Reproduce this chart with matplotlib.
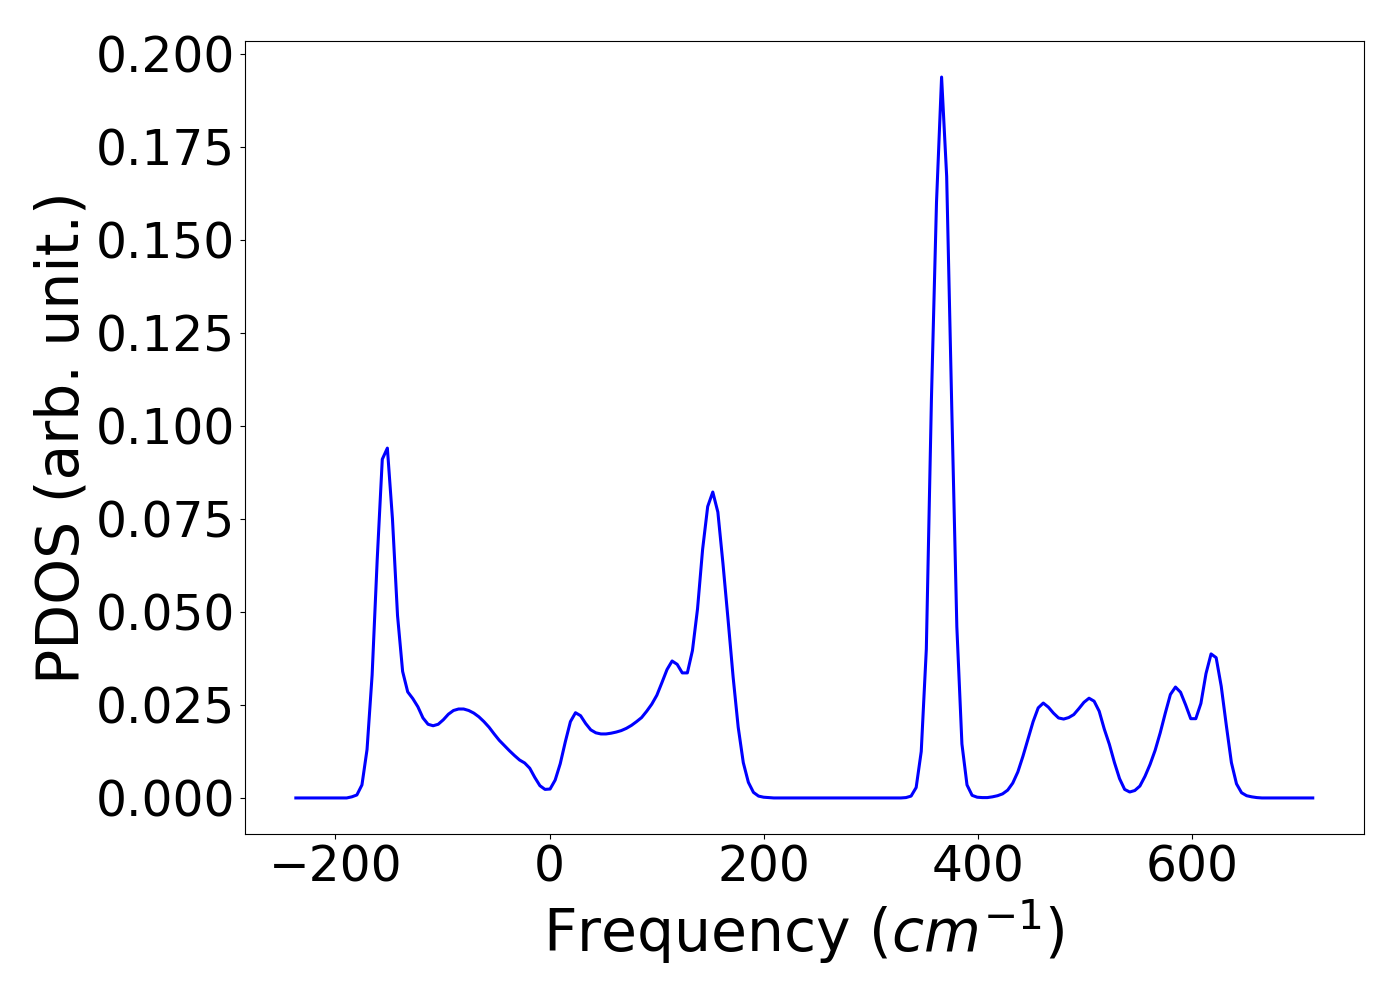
import numpy as np
import matplotlib
matplotlib.use("Agg")
import matplotlib.pyplot as plt

# Frequency grid (cm^-1): 201 evenly spaced samples
freq_min = -237.0
freq_max = 713.0
n_points = 201

# PDOS values, one per frequency sample
pdos_low = [0.0] * 11 + [
    0.0003, 0.0008, 0.0035, 0.013, 0.033, 0.064, 0.091, 0.094, 0.075, 0.049, 0.034, 0.0285,
]
pdos_mid1 = [
    0.0267, 0.0245, 0.0215, 0.0198, 0.0194, 0.0198, 0.0210, 0.0225, 0.0235, 0.0239,
    0.0239, 0.0235, 0.0228, 0.0218, 0.0205, 0.0190, 0.0172, 0.0155, 0.0141, 0.0127,
    0.0114, 0.0102, 0.0094, 0.0080, 0.0055, 0.0033, 0.0023, 0.0024,
]
pdos_mid2 = [
    0.0048, 0.0092, 0.0151, 0.0205, 0.0229, 0.0221, 0.0200, 0.0183, 0.0175, 0.0172,
    0.0172, 0.0174, 0.0177, 0.0181, 0.0187, 0.0195, 0.0205, 0.0216, 0.0233, 0.0252,
    0.0276, 0.0310, 0.0345, 0.0368, 0.0359, 0.0336, 0.0336, 0.0396, 0.0508, 0.0668,
    0.0783, 0.0822, 0.0768, 0.0630, 0.0480, 0.0325, 0.0190, 0.0095, 0.0042, 0.0015,
    0.0005, 0.0002, 0.0001,
]
pdos_gap = [0.0] * 26
pdos_peak = [
    0.0001, 0.0005, 0.0028, 0.0125, 0.040, 0.107, 0.160, 0.1937, 0.167, 0.105,
    0.046, 0.0145, 0.0035, 0.0007, 0.0002, 0.0001, 0.0001,
]
pdos_high1 = [
    0.0003, 0.0006, 0.0011, 0.0021, 0.0040, 0.0070, 0.0112, 0.0158, 0.0205, 0.0242,
    0.0255, 0.0244, 0.0228, 0.0215, 0.0212, 0.0216, 0.0224, 0.0240, 0.0257, 0.0268,
    0.0260, 0.0233, 0.0185, 0.0144, 0.0095, 0.0052, 0.0023, 0.0016, 0.0020,
]
pdos_high2 = [
    0.0032, 0.0058, 0.0090, 0.0128, 0.0175, 0.0228, 0.0278, 0.0298, 0.0284, 0.0250,
    0.0213, 0.0213, 0.0254, 0.0334, 0.0387, 0.0377, 0.0300, 0.0195, 0.0095, 0.0038,
    0.0014, 0.0006, 0.0003, 0.0001,
] + [0.0] * 11

pdos = pdos_low + pdos_mid1 + pdos_mid2 + pdos_gap + pdos_peak + pdos_high1 + pdos_high2
freq = np.linspace(freq_min, freq_max, n_points)
assert len(pdos) == len(freq)

x_label = "Frequency ($cm^{-1}$)"
y_label = "PDOS (arb. unit.)"

fig = plt.figure(figsize=(14, 10), dpi=100)
ax = fig.add_axes([0.175, 0.166, 0.799, 0.793])
ax.plot(freq, pdos, color="blue", linewidth=2.2)
ax.set_xlabel(x_label, fontsize=42)
ax.set_ylabel(y_label, fontsize=42)
ax.tick_params(axis="both", labelsize=35)
ax.set_xticks([-200, 0, 200, 400, 600])
ax.set_yticks([0.0, 0.025, 0.05, 0.075, 0.1, 0.125, 0.15, 0.175, 0.2])
ax.set_yticklabels(["0.000", "0.025", "0.050", "0.075", "0.100", "0.125", "0.150", "0.175", "0.200"])
fig.savefig("out.png", dpi=100)
